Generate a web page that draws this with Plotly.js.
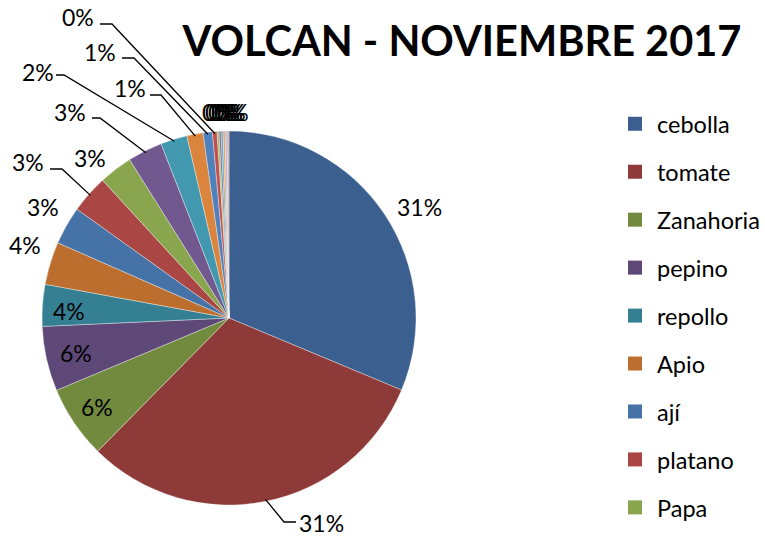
<!DOCTYPE html>
<html>
<head>
<meta charset="utf-8">
<script src="https://cdn.plot.ly/plotly-3.0.1.min.js"></script>
<style>html,body{margin:0;padding:0;background:#fff;}#chart{width:765px;height:545px;}</style>
</head>
<body>
<div id="chart"></div>
<script>
// ---- data ----
const categories = ["cebolla","tomate","Zanahoria","pepino","repollo","Apio","ají","platano","Papa",
  "otro 10","otro 11","otro 12","otro 13","otro 14","otro 15","otro 16","otro 17","otro 18","otro 19","otro 20"];
const values = [31.3,31.1,6.3,5.6,3.6,3.7,3.3,3.3,2.9,3.0,2.3,1.4,0.8,0.4,0.17,0.17,0.17,0.17,0.17,0.17];
const legendCount = 9;
const colors = ["#3b5f8f","#8e3a38","#728a3e","#5e4878","#357f93","#bc6e2e","#4573a8","#aa4643","#89a54e",
  "#71588f","#4198af","#db843d","#4f81bd","#c0504d","#9bbb59","#8064a2","#4bacc6","#f79646","#a5b6d6","#d8a8a6"];

// ---- layout helpers (pixel geometry of the pie) ----
const W = 765, H = 545;
const cx = 229, cy = 318, R = 187;
const px2x = p => p / W, px2y = p => 1 - p / H;

// label placement (pixels): text centre, optional leader [start, elbow]
const labelPlace = [
  {x:419,y:207},
  {x:321,y:523,line:[[296,522],[284,522]]},
  {x:97,y:407},
  {x:76,y:353},
  {x:69,y:311},
  {x:25,y:245},
  {x:43,y:207},
  {x:28,y:162,line:[[50,169],[62,169]]},
  {x:90,y:158},
  {x:70,y:112,line:[[92,118],[100,118]]},
  {x:38,y:72,line:[[56,75],[64,75]]},
  {x:130,y:88,line:[[150,95],[161,95]]},
  {x:100,y:52,line:[[122,58],[134,58]]},
  {x:78,y:17,line:[[100,24],[112,24]]},
  {x:218,y:112},{x:221,y:112},{x:224,y:112},{x:227,y:112},{x:230,y:112},{x:233,y:112}
];

const total = values.reduce((a,b)=>a+b,0);
const annotations = [];
const shapes = [];
let cum = 0;
values.forEach((v,i)=>{
  const mid = (cum + v/2)/total*2*Math.PI;
  cum += v;
  const pct = Math.round(v/total*100) + "%";
  const lp = labelPlace[i];
  annotations.push({xref:'paper',yref:'paper',x:px2x(lp.x),y:px2y(lp.y),xanchor:'center',yanchor:'middle',
    text:pct,showarrow:false,font:{family:'Lato, sans-serif',size:23,color:'#000'}});
  if(lp.line){
    const ex = cx + (R-2)*Math.sin(mid), ey = cy - (R-2)*Math.cos(mid);
    const p = `M ${px2x(lp.line[0][0])} ${px2y(lp.line[0][1])} L ${px2x(lp.line[1][0])} ${px2y(lp.line[1][1])} L ${px2x(ex)} ${px2y(ey)}`;
    shapes.push({type:'path',xref:'paper',yref:'paper',path:p,line:{color:'#000',width:1.3}});
  }
});

const pie = {
  type:'pie', labels:categories, values:values, sort:false, direction:'clockwise', rotation:0,
  marker:{colors:colors,line:{color:'rgba(255,255,255,0.6)',width:0.6}},
  textinfo:'none', showlegend:false, hoverinfo:'label+percent',
  domain:{x:[(cx-R)/W,(cx+R)/W], y:[1-(cy+R)/H, 1-(cy-R)/H]}
};

const legendTraces = categories.slice(0,legendCount).map((c,i)=>({
  type:'scatter', x:[null], y:[null], mode:'markers', name:c, legendgroup:'g'+i,
  marker:{symbol:'square',size:14,color:colors[i]}, hoverinfo:'skip'
}));

const layout = {
  width:W, height:H, margin:{l:0,r:0,t:0,b:0,autoexpand:false},
  paper_bgcolor:'#fff', plot_bgcolor:'#fff',
  title:{text:'<b>VOLCAN - NOVIEMBRE 2017</b>', x:462/W, xanchor:'center', y:1-41/H, yanchor:'middle',
    font:{family:'Lato, sans-serif',size:41.5,color:'#000'}},
  xaxis:{visible:false}, yaxis:{visible:false},
  showlegend:true,
  legend:{x:613/W, xanchor:'left', y:1-102/H, yanchor:'top', tracegroupgap:14.4, itemwidth:34,
    font:{family:'Lato, sans-serif',size:23.5,color:'#000'}, bgcolor:'rgba(0,0,0,0)'},
  annotations:annotations, shapes:shapes
};

Plotly.newPlot('chart',[pie].concat(legendTraces),layout,{displayModeBar:false,staticPlot:true});
</script>
</body>
</html>
